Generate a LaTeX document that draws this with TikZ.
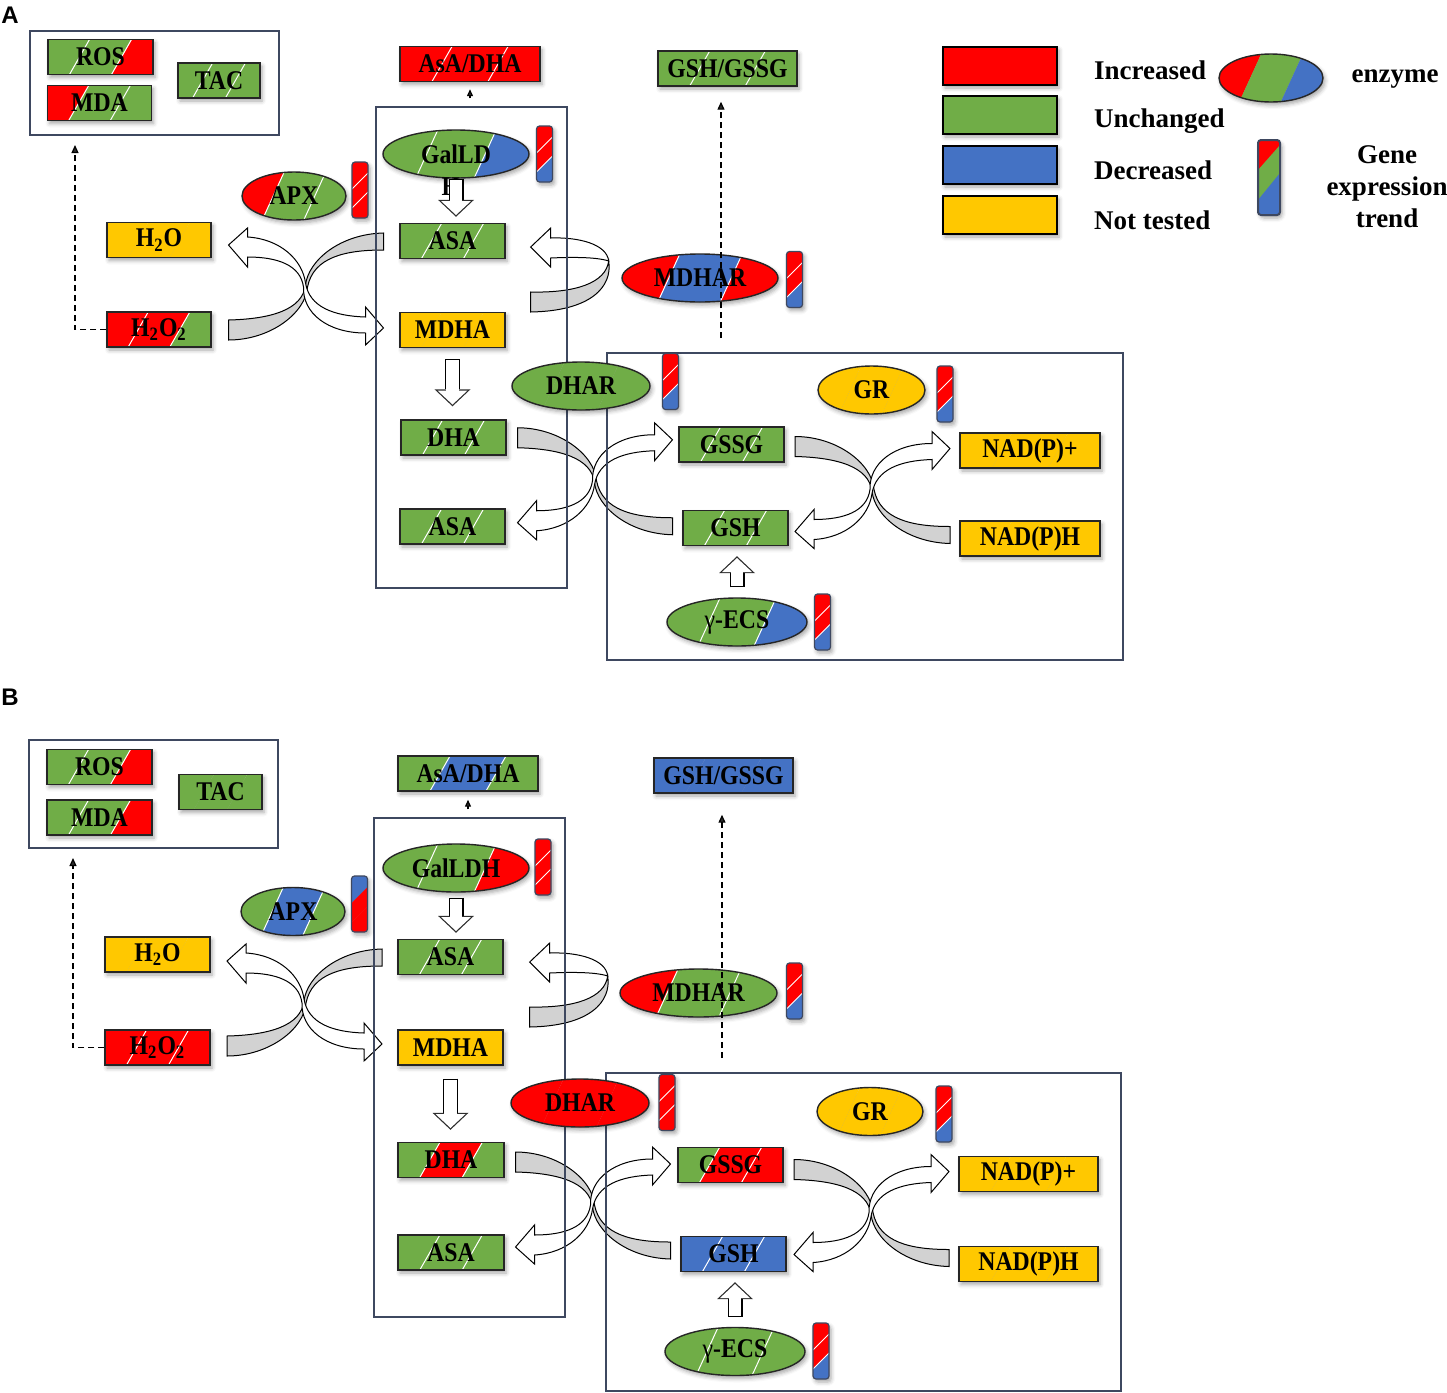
\documentclass[tikz,border=0pt]{standalone}
\usepackage{fontspec}
\setmainfont{Liberation Serif}
\newfontfamily\boxfont{Liberation Serif}[FakeStretch = 0.88]
\newfontfamily\panelfont{Liberation Sans}
\usetikzlibrary{shapes.geometric, arrows.meta, calc, shadows.blur}

\definecolor{incr}{RGB}{255,0,0}
\definecolor{unch}{RGB}{112,173,71}
\definecolor{decr}{RGB}{68,114,196}
\definecolor{ntest}{RGB}{255,200,0}
\definecolor{ribgray}{RGB}{210,210,210}
\definecolor{framegray}{RGB}{62,72,96}

\pgfdeclarelayer{ribbon}
\pgfdeclarelayer{frames}
\pgfsetlayers{ribbon,frames,main}

\tikzset{
  soft/.style = {blur shadow = {shadow xshift = 1pt, shadow yshift = -1.5pt, shadow blur radius = 2pt, shadow opacity = 35}},
  mbox/.style = {draw = black!85, line width = 0.7pt, inner sep = 0pt, minimum height = 17.5pt, font = \boxfont\bfseries\fontsize{13.5}{15}\selectfont},
  enz/.style = {ellipse, draw = black!85, line width = 0.7pt, inner sep = 0pt, minimum height = 24pt, font = \boxfont\bfseries\fontsize{13.5}{15}\selectfont},
  gbar/.style = {draw = framegray, line width = 0.6pt, rounded corners = 1.5pt, minimum width = 8pt, minimum height = 28pt, inner sep = 0pt},
  keybox/.style = {draw = black, line width = 1.2pt, minimum width = 57pt, minimum height = 19pt, soft},
  keytext/.style = {font = \fontsize{13.5}{16}\selectfont\bfseries, align = center},
  letter/.style = {font = \panelfont\bfseries\fontsize{12}{14}\selectfont},
  panelbox/.style = {draw = framegray, line width = 0.6pt, inner sep = 0pt},
  effect/.style = {dash pattern = on 3pt off 2pt, line width = 0.6pt, -{Triangle[length = 4pt, width = 3.5pt]}},
  ribbonline/.style = {draw = black, line width = 0.5pt},
  redox/.pic = {
    \filldraw [ribbonline, fill = ribgray] (-77, 35) .. controls (-35, 34) and (-3, 25) .. (0, 0)
      .. controls (3, -25) and (35, -51) .. (78, -52) -- (78, -35)
      .. controls (40, -35) and (8, -28) .. (2, 2)
      .. controls (0, 28) and (-35, 55) .. (-77, 55) -- cycle;
    \filldraw [ribbonline, fill = white] (-58, -48) .. controls (-25, -46) and (-3, -25) .. (0, -2)
      .. controls (4, 22) and (28, 31) .. (60, 32) -- (60, 22) -- (78, 43) -- (60, 60) -- (60, 48)
      .. controls (22, 48) and (-3, 28) .. (-2, 2)
      .. controls (-5, -20) and (-28, -28) .. (-58, -28) -- (-58, -18) -- (-77, -40) -- (-58, -57) -- cycle;
  },
  recycle/.pic = {
    \filldraw [ribbonline, fill = ribgray] (78, 14) .. controls (82, 40) and (60, 64) .. (0, 65) -- (0, 45)
      .. controls (45, 46) and (75, 36) .. (78, 14) -- cycle;
    \filldraw [ribbonline, fill = white] (20, -9) .. controls (48, -10) and (76, -3) .. (78, 14)
      .. controls (66, 10) and (42, 10) .. (20, 11) -- (20, 20) -- (0, 0) -- (20, -19) -- cycle;
  }
}

% metabolite box: name, x, y, width, three colours, slash colour, text
\newcommand{\metab}[9]{%
  \path [soft] ({#2-#4/2}, {#3-17.5}) rectangle ({#2+#4/2}, {#3+17.5});
  \fill [#5] ({#2-#4/2}, {#3-17.5}) -- ({#2-0.2*#4+10}, {#3-17.5}) -- ({#2-0.2*#4-10}, {#3+17.5}) -- ({#2-#4/2}, {#3+17.5}) -- cycle;
  \fill [#6] ({#2-0.2*#4+10}, {#3-17.5}) -- ({#2+0.2*#4+10}, {#3-17.5}) -- ({#2+0.2*#4-10}, {#3+17.5}) -- ({#2-0.2*#4-10}, {#3+17.5}) -- cycle;
  \fill [#7] ({#2+0.2*#4+10}, {#3-17.5}) -- ({#2+#4/2}, {#3-17.5}) -- ({#2+#4/2}, {#3+17.5}) -- ({#2+0.2*#4-10}, {#3+17.5}) -- cycle;
  \draw [draw = #8, line width = 0.5pt] ({#2-0.2*#4+10}, {#3-17.5}) -- ({#2-0.2*#4-10}, {#3+17.5})
    ({#2+0.2*#4+10}, {#3-17.5}) -- ({#2+0.2*#4-10}, {#3+17.5});
  \node [mbox, minimum width = #4*0.5pt] (#1) at (#2, #3) {#9};
}

% enzyme ellipse: name, x, y, x radius, three colours, slash colour, text
\newcommand{\enzyme}[9]{%
  \path [soft] (#2, #3) ellipse [x radius = #4, y radius = 24];
  \begin{scope}
    \clip (#2, #3) ellipse [x radius = #4, y radius = 24];
    \fill [#5] ({#2-#4}, {#3-24}) -- ({#2-0.4*#4+11}, {#3-24}) -- ({#2-0.4*#4-11}, {#3+24}) -- ({#2-#4}, {#3+24}) -- cycle;
    \fill [#6] ({#2-0.4*#4+11}, {#3-24}) -- ({#2+0.4*#4+11}, {#3-24}) -- ({#2+0.4*#4-11}, {#3+24}) -- ({#2-0.4*#4-11}, {#3+24}) -- cycle;
    \fill [#7] ({#2+0.4*#4+11}, {#3-24}) -- ({#2+#4}, {#3-24}) -- ({#2+#4}, {#3+24}) -- ({#2+0.4*#4-11}, {#3+24}) -- cycle;
    \draw [draw = #8, line width = 0.5pt] ({#2-0.4*#4+11}, {#3-24}) -- ({#2-0.4*#4-11}, {#3+24})
      ({#2+0.4*#4+11}, {#3-24}) -- ({#2+0.4*#4-11}, {#3+24});
  \end{scope}
  \node [enz, minimum width = #4*1pt] (#1) at (#2, #3) {#9};
}

% gene expression bar: name, x, y, top/middle/bottom colours, slash colour
\newcommand{\gene}[7]{%
  \path [soft, rounded corners = 1.5pt] ({#2-8}, {#3-28}) rectangle ({#2+8}, {#3+28});
  \begin{scope}
    \clip [rounded corners = 1.5pt] ({#2-8}, {#3-28}) rectangle ({#2+8}, {#3+28});
    \fill [#4] ({#2-8}, {#3-28}) -- ({#2+8}, {#3-28}) -- ({#2+8}, {#3-17}) -- ({#2-8}, {#3-1}) -- cycle;
    \fill [#5] ({#2-8}, {#3-1}) -- ({#2+8}, {#3-17}) -- ({#2+8}, {#3+2}) -- ({#2-8}, {#3+18}) -- cycle;
    \fill [#6] ({#2-8}, {#3+18}) -- ({#2+8}, {#3+2}) -- ({#2+8}, {#3+28}) -- ({#2-8}, {#3+28}) -- cycle;
  \end{scope}
  \draw [draw = #7, line width = 0.5pt] ({#2-8}, {#3-1}) -- ({#2+8}, {#3-17}) ({#2-8}, {#3+18}) -- ({#2+8}, {#3+2});
  \node [gbar] (#1) at (#2, #3) {};
}

% hollow block arrow between two points
\newcommand{\blockarrow}[2]{%
  \draw [line width = 7.5pt, -{Triangle[length = 8.5pt, width = 18pt, line width = 0pt]}] #1 -- #2;
  \draw [white, line width = 6.3pt, shorten < = 0.6pt, shorten > = 0.9pt, -{Triangle[length = 7pt, width = 15pt, line width = 0pt]}] #1 -- #2;
}

\begin{document}
\begin{tikzpicture}[x = 0.5pt, y = -0.5pt]
  \useasboundingbox (0, 0) rectangle (1447, 1393);

  % ---------------- panel A ----------------
  \node [letter] (pa) at (10, 15) {A};

  \metab{ros1}{100.5}{57}{105}{unch}{unch}{incr}{white}{ROS}
  \metab{mda1}{99.5}{103}{104}{incr}{unch}{unch}{white}{MDA}
  \metab{tac1}{219}{80.5}{82}{unch}{unch}{unch}{white}{TAC}
  \metab{asadha1}{470}{64}{140}{incr}{incr}{incr}{white}{AsA/DHA}
  \metab{gshr1}{727.5}{68.5}{139}{unch}{unch}{unch}{white}{GSH/GSSG}
  \metab{wat1}{159}{240}{104}{ntest}{ntest}{ntest}{none}{H\textsubscript{2}O}
  \metab{per1}{159}{329.5}{104}{incr}{incr}{unch}{white}{H\textsubscript{2}O\textsubscript{2}}
  \metab{asa1}{452.5}{241}{105}{unch}{unch}{unch}{white}{ASA}
  \metab{mdha1}{452.5}{330}{105}{ntest}{ntest}{ntest}{none}{MDHA}
  \metab{dha1}{453.5}{437.5}{105}{unch}{unch}{unch}{white}{DHA}
  \metab{asb1}{452.5}{526.5}{105}{unch}{unch}{unch}{white}{ASA}
  \metab{gssg1}{731.5}{444.5}{105}{unch}{unch}{unch}{white}{GSSG}
  \metab{gsh1}{735.5}{528}{105}{unch}{unch}{unch}{white}{GSH}
  \metab{nadp1}{1030}{450.5}{140}{ntest}{ntest}{ntest}{none}{NAD(P)+}
  \metab{nadph1}{1030}{538.5}{140}{ntest}{ntest}{ntest}{none}{NAD(P)H}

  \enzyme{apx1}{294}{196}{52}{incr}{unch}{unch}{white}{APX}
  \enzyme{galdh1}{456}{154}{73}{unch}{unch}{decr}{white}{GalLD\makebox[0pt][r]{\raisebox{-16pt}[0pt][0pt]{H\hspace{1.14em}}}}
  \enzyme{mdhar1}{700}{278}{78}{incr}{decr}{incr}{white}{MDHAR}
  \enzyme{dhar1}{581}{386}{69}{unch}{unch}{unch}{none}{DHAR}
  \enzyme{gr1}{871.5}{390}{53.5}{ntest}{ntest}{ntest}{none}{GR}
  \enzyme{gecs1}{737}{622}{70}{unch}{unch}{decr}{white}{{\mdseries γ}-ECS}

  \gene{apxg1}{360}{190}{incr}{incr}{incr}{white}
  \gene{galdhg1}{544.5}{154}{incr}{incr}{decr}{white}
  \gene{mdharg1}{794.5}{279.5}{incr}{incr}{decr}{white}
  \gene{dharg1}{670.5}{381.5}{incr}{incr}{decr}{white}
  \gene{grg1}{945}{394}{incr}{incr}{decr}{white}
  \gene{gecsg1}{822.5}{622}{incr}{incr}{decr}{white}

  % legend
  \node [keybox, fill = incr] (kincr) at (1000, 66) {};
  \node [keybox, fill = unch] (kunch) at (1000, 115) {};
  \node [keybox, fill = decr] (kdecr) at (1000, 165) {};
  \node [keybox, fill = ntest] (kntest) at (1000, 215) {};
  \node [keytext, anchor = west] (tincr) at (1087, 70) {Increased};
  \node [keytext, anchor = west] (tunch) at (1087, 121) {Unchanged};
  \node [keytext, anchor = west] (tdecr) at (1087, 170) {Decreased};
  \node [keytext, anchor = west] (tntest) at (1087, 220) {Not tested};
  \enzyme{kenz}{1271}{78}{52}{incr}{unch}{decr}{none}{}
  \node [keytext] (tenz) at (1395, 79) {enzyme};
  \path [soft, rounded corners = 2pt] (1258, 140) rectangle (1280, 215);
  \begin{scope}
    \clip [rounded corners = 2pt] (1258, 140) rectangle (1280, 215);
    \fill [incr] (1258, 140) rectangle (1280, 215);
    \fill [unch] (1258, 170) -- (1280, 145) -- (1280, 215) -- (1258, 215) -- cycle;
    \fill [decr] (1258, 200) -- (1280, 173) -- (1280, 215) -- (1258, 215) -- cycle;
  \end{scope}
  \node [gbar, line width = 1pt, minimum width = 11pt, minimum height = 37.5pt] (kgene) at (1269, 177.5) {};
  \node [keytext] (tgene) at (1387, 187) {Gene\\expression\\trend};

  % ---------------- panel B ----------------
  \node [letter] (pb) at (10, 697) {B};

  \metab{ros2}{99.5}{767}{105}{unch}{unch}{incr}{white}{ROS}
  \metab{mda2}{99.5}{817.5}{105}{unch}{unch}{incr}{white}{MDA}
  \metab{tac2}{220.5}{792}{83}{unch}{unch}{unch}{none}{TAC}
  \metab{asadha2}{468}{773.5}{140}{unch}{decr}{unch}{white}{AsA/DHA}
  \metab{gshr2}{723.5}{775.5}{139}{decr}{decr}{decr}{none}{GSH/GSSG}
  \metab{wat2}{157.5}{954.5}{105}{ntest}{ntest}{ntest}{none}{H\textsubscript{2}O}
  \metab{per2}{157.5}{1047.5}{105}{incr}{incr}{incr}{white}{H\textsubscript{2}O\textsubscript{2}}
  \metab{asa2}{450.5}{957}{105}{unch}{unch}{unch}{white}{ASA}
  \metab{mdha2}{450.5}{1047.5}{105}{ntest}{ntest}{ntest}{none}{MDHA}
  \metab{dha2}{451}{1160}{106}{unch}{incr}{unch}{white}{DHA}
  \metab{asb2}{451}{1252.5}{106}{unch}{unch}{unch}{white}{ASA}
  \metab{gssg2}{730.5}{1165}{105}{unch}{incr}{incr}{white}{GSSG}
  \metab{gsh2}{733.5}{1254}{105}{decr}{decr}{decr}{white}{GSH}
  \metab{nadp2}{1028.5}{1174}{139}{ntest}{ntest}{ntest}{none}{NAD(P)+}
  \metab{nadph2}{1028.5}{1264}{139}{ntest}{ntest}{ntest}{none}{NAD(P)H}

  \enzyme{apx2}{293}{911.5}{52}{unch}{decr}{unch}{white}{APX}
  \enzyme{galdh2}{456}{868}{73}{unch}{unch}{incr}{white}{GalLDH}
  \enzyme{mdhar2}{698.5}{993}{78.5}{incr}{unch}{unch}{white}{MDHAR}
  \enzyme{dhar2}{580}{1103}{69}{incr}{incr}{incr}{none}{DHAR}
  \enzyme{gr2}{870}{1111.5}{53}{ntest}{ntest}{ntest}{none}{GR}
  \enzyme{gecs2}{735}{1351.5}{70}{unch}{unch}{unch}{white}{{\mdseries γ}-ECS}

  \gene{apxg2}{359.5}{904}{decr}{incr}{incr}{none}
  \gene{galdhg2}{543}{867}{incr}{incr}{incr}{white}
  \gene{mdharg2}{794.5}{991}{incr}{incr}{decr}{white}
  \gene{dharg2}{667}{1102.5}{incr}{incr}{incr}{white}
  \gene{grg2}{944}{1114}{incr}{incr}{decr}{white}
  \gene{gecsg2}{821}{1351}{incr}{incr}{decr}{white}

  % boxes round the pools
  \begin{pgfonlayer}{frames}
    \node [panelbox, minimum width = 124.5pt, minimum height = 52pt] (out1) at (154.5, 83) {};
    \node [panelbox, minimum width = 95.5pt, minimum height = 240.5pt] (asc1) at (471.5, 347.5) {};
    \node [panelbox, minimum width = 258pt, minimum height = 153.5pt] (glu1) at (865, 506.5) {};
    \node [panelbox, minimum width = 124.5pt, minimum height = 54pt] (out2) at (153.5, 794) {};
    \node [panelbox, minimum width = 95.5pt, minimum height = 249.5pt] (asc2) at (469.5, 1067.5) {};
    \node [panelbox, minimum width = 257.5pt, minimum height = 159pt] (glu2) at (863.5, 1232) {};
  \end{pgfonlayer}

  % reaction ribbons
  \begin{pgfonlayer}{ribbon}
    \pic at ($(wat1.east)!.5!(mdha1.west)$) {redox};
    \pic [yscale = -1] at ($(dha1.east)!.5!(gsh1.west)$) {redox};
    \pic [yscale = -1] at ($(gssg1.east)!.5!(nadph1.west)$) {redox};
    \pic at ([shift = {(25, 6)}]asa1.east) {recycle};
    \pic at ($(wat2.east)!.5!(mdha2.west)$) {redox};
    \pic [yscale = -1] at ($(dha2.east)!.5!(gsh2.west)$) {redox};
    \pic [yscale = -1] at ($(gssg2.east)!.5!(nadph2.west)$) {redox};
    \pic at ([shift = {(26, 5)}]asa2.east) {recycle};
  \end{pgfonlayer}

  % synthesis steps
  \blockarrow{(galdh1.south)}{($(galdh1.south |- asa1.north)+(0,3pt)$)}
  \blockarrow{($(mdha1.south)+(0,-5.5pt)$)}{($(mdha1.south |- dha1.north)+(0,6.5pt)$)}
  \blockarrow{($(gecs1.north)+(0,5pt)$)}{($(gecs1.north |- gsh1.south)+(0,-5pt)$)}
  \blockarrow{($(galdh2.south)+(0,-2.5pt)$)}{($(galdh2.south |- asa2.north)+(0,3pt)$)}
  \blockarrow{($(mdha2.south)+(0,-6.5pt)$)}{($(mdha2.south |- dha2.north)+(0,6pt)$)}
  \blockarrow{($(gecs2.north)+(0,5pt)$)}{($(gecs2.north |- gsh2.south)+(0,-5pt)$)}

  % effects on the pools
  \coordinate (ox1) at (75, 145);
  \coordinate (ox2) at (73, 858);
  \coordinate (gs1) at (721, 338);
  \coordinate (gs2) at (722, 1058);
  \draw [effect] (per1.west) -| (ox1);
  \draw [effect] (per2.west) -| (ox2);
  \draw [effect] (gs1) -- ($(gs1 |- gshr1.south)+(0,-7.5pt)$);
  \draw [effect] (gs2) -- ($(gs2 |- gshr2.south)+(0,-10.5pt)$);
  \draw [line width = 0.6pt, -{Triangle[length = 3.5pt, width = 3pt]}] ($(asadha1.south |- asc1.north)+(0,4pt)$) -- ($(asadha1.south)+(0,-3.5pt)$);
  \draw [line width = 0.6pt, -{Triangle[length = 3.5pt, width = 3pt]}] ($(asadha2.south |- asc2.north)+(0,4pt)$) -- ($(asadha2.south)+(0,-4pt)$);
\end{tikzpicture}
\end{document}
